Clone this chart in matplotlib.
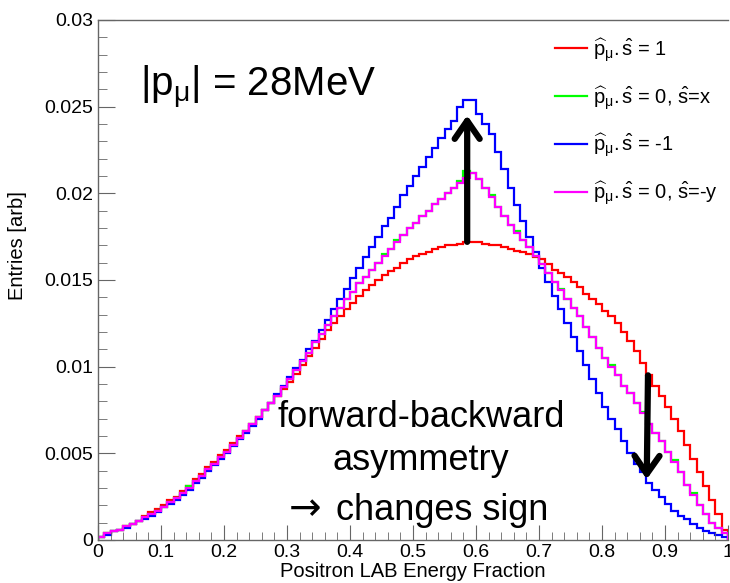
import numpy as np
import matplotlib
matplotlib.use("Agg")
import matplotlib.pyplot as plt
from matplotlib.ticker import MultipleLocator, FormatStrFormatter

plt.rcParams['font.family'] = ['Liberation Sans', 'DejaVu Sans']
plt.rcParams['mathtext.fontset'] = 'custom'
plt.rcParams['mathtext.rm'] = 'Liberation Sans'
plt.rcParams['mathtext.it'] = 'Liberation Sans'
plt.rcParams['mathtext.bf'] = 'Liberation Sans:bold'

# 100 bins of the positron energy fraction, 0..1
bin_edges = np.linspace(0, 1, 101)

red = [0.0002, 0.0004, 0.0005, 0.0006, 0.0008, 0.0009, 0.0011, 0.0014, 0.0016, 0.0018,
       0.0020, 0.0023, 0.0025, 0.0028, 0.0031, 0.0035, 0.0038, 0.0042, 0.0045, 0.0049,
       0.0052, 0.0056, 0.0060, 0.0063, 0.0067, 0.0071, 0.0075, 0.0079, 0.0083, 0.0087,
       0.0091, 0.0096, 0.0101, 0.0106, 0.0111, 0.0116, 0.0121, 0.0125, 0.0129, 0.0133,
       0.0137, 0.0141, 0.0144, 0.0147, 0.0150, 0.0153, 0.0155, 0.0157, 0.0160, 0.0162,
       0.0164, 0.0165, 0.0166, 0.0168, 0.0169, 0.0170, 0.0170, 0.0171, 0.0172, 0.0172,
       0.0172, 0.0171, 0.0170, 0.0170, 0.0169, 0.0168, 0.0167, 0.0166, 0.0165, 0.0163,
       0.0162, 0.0159, 0.0156, 0.0154, 0.0152, 0.0149, 0.0146, 0.0142, 0.0139, 0.0136,
       0.0132, 0.0129, 0.0125, 0.0120, 0.0115, 0.0109, 0.0102, 0.0095, 0.0089, 0.0083,
       0.0077, 0.0070, 0.0063, 0.0055, 0.0047, 0.0039, 0.0031, 0.0023, 0.0015, 0.0006]

green = [0.0002, 0.0004, 0.0005, 0.0006, 0.0008, 0.0009, 0.0011, 0.0013, 0.0015, 0.0017,
         0.0019, 0.0022, 0.0024, 0.0027, 0.0031, 0.0034, 0.0037, 0.0041, 0.0044, 0.0048,
         0.0051, 0.0055, 0.0059, 0.0063, 0.0067, 0.0071, 0.0075, 0.0079, 0.0083, 0.0088,
         0.0093, 0.0098, 0.0103, 0.0108, 0.0114, 0.0119, 0.0124, 0.0129, 0.0134, 0.0139,
         0.0143, 0.0148, 0.0152, 0.0156, 0.0160, 0.0165, 0.0168, 0.0173, 0.0176, 0.0180,
         0.0183, 0.0187, 0.0190, 0.0194, 0.0197, 0.0200, 0.0203, 0.0207, 0.0213, 0.0212,
         0.0208, 0.0203, 0.0199, 0.0192, 0.0187, 0.0182, 0.0178, 0.0173, 0.0169, 0.0164,
         0.0159, 0.0154, 0.0149, 0.0145, 0.0139, 0.0134, 0.0129, 0.0123, 0.0117, 0.0111,
         0.0105, 0.0101, 0.0095, 0.0089, 0.0085, 0.0079, 0.0074, 0.0067, 0.0062, 0.0057,
         0.0051, 0.0046, 0.0039, 0.0032, 0.0027, 0.0020, 0.0015, 0.0010, 0.0007, 0.0004]

blue = [0.0002, 0.0003, 0.0005, 0.0006, 0.0007, 0.0009, 0.0011, 0.0012, 0.0014, 0.0016,
        0.0019, 0.0021, 0.0023, 0.0026, 0.0029, 0.0033, 0.0036, 0.0040, 0.0043, 0.0047,
        0.0050, 0.0054, 0.0058, 0.0062, 0.0066, 0.0070, 0.0075, 0.0079, 0.0084, 0.0089,
        0.0094, 0.0099, 0.0104, 0.0110, 0.0115, 0.0121, 0.0127, 0.0133, 0.0139, 0.0145,
        0.0151, 0.0157, 0.0163, 0.0169, 0.0175, 0.0181, 0.0186, 0.0192, 0.0199, 0.0204,
        0.0210, 0.0215, 0.0221, 0.0226, 0.0232, 0.0237, 0.0242, 0.0250, 0.0254, 0.0254,
        0.0246, 0.0240, 0.0234, 0.0224, 0.0214, 0.0203, 0.0193, 0.0184, 0.0175, 0.0166,
        0.0157, 0.0149, 0.0141, 0.0133, 0.0125, 0.0117, 0.0109, 0.0101, 0.0093, 0.0085,
        0.0077, 0.0070, 0.0064, 0.0057, 0.0050, 0.0044, 0.0039, 0.0033, 0.0029, 0.0025,
        0.0021, 0.0017, 0.0014, 0.0012, 0.0009, 0.0007, 0.0005, 0.0004, 0.0003, 0.0002]

magenta = [0.0002, 0.0004, 0.0005, 0.0006, 0.0008, 0.0009, 0.0011, 0.0013, 0.0015, 0.0017,
           0.0019, 0.0022, 0.0024, 0.0027, 0.0030, 0.0034, 0.0037, 0.0041, 0.0044, 0.0048,
           0.0051, 0.0055, 0.0059, 0.0063, 0.0067, 0.0071, 0.0075, 0.0079, 0.0083, 0.0088,
           0.0093, 0.0098, 0.0103, 0.0108, 0.0114, 0.0119, 0.0124, 0.0129, 0.0134, 0.0139,
           0.0143, 0.0148, 0.0152, 0.0156, 0.0160, 0.0164, 0.0168, 0.0172, 0.0176, 0.0180,
           0.0183, 0.0187, 0.0190, 0.0194, 0.0197, 0.0200, 0.0203, 0.0206, 0.0209, 0.0212,
           0.0208, 0.0203, 0.0198, 0.0192, 0.0187, 0.0182, 0.0177, 0.0173, 0.0169, 0.0164,
           0.0159, 0.0154, 0.0149, 0.0144, 0.0139, 0.0134, 0.0129, 0.0123, 0.0117, 0.0111,
           0.0105, 0.0100, 0.0095, 0.0089, 0.0085, 0.0079, 0.0073, 0.0067, 0.0062, 0.0057,
           0.0051, 0.0045, 0.0039, 0.0032, 0.0026, 0.0020, 0.0015, 0.0010, 0.0007, 0.0004]

series = [
    (red, '#ff0000', r'$\widehat{p}_{\mu}.\hat{s}$ = 1'),
    (green, '#00ff00', r'$\widehat{p}_{\mu}.\hat{s}$ = 0, $\hat{s}$=x'),
    (blue, '#0000ff', r'$\widehat{p}_{\mu}.\hat{s}$ = -1'),
    (magenta, '#ff00ff', r'$\widehat{p}_{\mu}.\hat{s}$ = 0, $\hat{s}$=-y'),
]

fig = plt.figure(figsize=(7.3, 5.83), dpi=100)
ax = fig.add_axes([98 / 730, 43 / 583, 630 / 730, 520 / 583])

for vals, col, lab in series:
    ax.stairs(vals, bin_edges, color=col, lw=1.6, label=lab)

ax.set_xlim(0, 1)
ax.set_ylim(0, 0.03)

axis_grey = '#666666'
for side in ['left', 'bottom', 'top']:
    ax.spines[side].set_color(axis_grey)
    ax.spines[side].set_linewidth(1.0)
ax.spines['right'].set_visible(False)

ax.xaxis.set_major_locator(MultipleLocator(0.1))
ax.xaxis.set_minor_locator(MultipleLocator(0.02))
ax.yaxis.set_major_locator(MultipleLocator(0.005))
ax.yaxis.set_minor_locator(MultipleLocator(0.001))
ax.xaxis.set_major_formatter(FormatStrFormatter('%g'))
ax.yaxis.set_major_formatter(FormatStrFormatter('%g'))
ax.tick_params(which='both', direction='in', color=axis_grey, labelsize=14,
               top=False, right=False)
ax.tick_params(axis='x', which='major', length=11, pad=3.2)
ax.tick_params(axis='x', which='minor', length=5.5)
ax.tick_params(axis='y', which='major', length=12, pad=3.6)
ax.tick_params(axis='y', which='minor', length=6.5)

ax.set_xlabel('Positron LAB Energy Fraction', fontsize=14.5)
ax.xaxis.set_label_coords(0.5, -0.0415)
ax.set_ylabel('Entries [arb]', fontsize=14.5)
ax.yaxis.set_label_coords(-0.113, 0.567)

ax.text(0.0667, 0.0256, r'|p$_{\mu}$| = 28MeV', fontsize=29, va='baseline', ha='left')

ax.text(0.513, 0.00651, 'forward-backward', fontsize=26, ha='center', va='baseline')
ax.text(0.513, 0.00403, 'asymmetry', fontsize=26, ha='center', va='baseline')
ax.text(0.302, 0.00115, '\u2192', fontsize=28, family='DejaVu Sans', ha='left', va='baseline')
ax.text(0.378, 0.00115, 'changes sign', fontsize=26, ha='left', va='baseline')

arrow_kw = dict(arrowstyle='->,head_length=0.65,head_width=0.45', lw=4.5,
                color='black', shrinkA=0, shrinkB=0, mutation_scale=20)
ax.annotate('', xy=(0.586, 0.0245), xytext=(0.586, 0.0172), arrowprops=arrow_kw)
ax.annotate('', xy=(0.871, 0.0035), xytext=(0.873, 0.0095), arrowprops=arrow_kw)

ax.legend(loc='upper left', bbox_to_anchor=(0.725, 0.969), frameon=False,
          fontsize=14.5, handlelength=1.6, handletextpad=0.3, labelspacing=1.0,
          borderpad=0, borderaxespad=0)

fig.savefig('out.png', dpi=100)
